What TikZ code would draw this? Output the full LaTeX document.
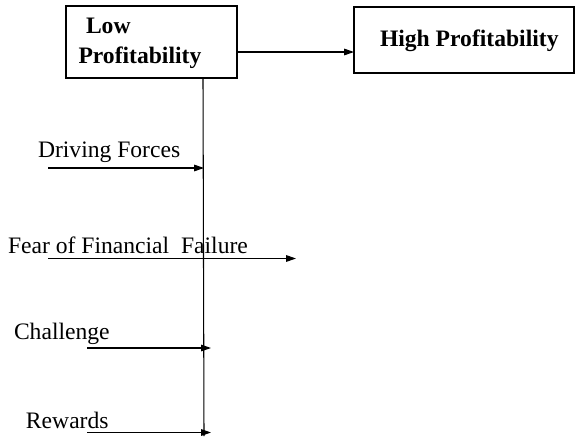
\documentclass[tikz,border=0pt]{standalone}
\usepackage{fontspec}
\setmainfont{Liberation Serif}
\usetikzlibrary{arrows.meta}
\begin{document}
\begin{tikzpicture}[x=0.75pt,y=-0.75pt,
  every node/.style={inner sep=0pt, outer sep=0pt},
  txt/.style={font=\fontsize{17.7}{22}\selectfont, anchor=base west},
  btxt/.style={txt, font=\fontsize{17.7}{22}\selectfont\bfseries},
  box/.style={draw, line width=0.8pt},
  line/.style={line width=0.8pt},
  arr/.style={line width=0.8pt, -{Triangle[length=7.5pt,width=5pt]}}]
\useasboundingbox (0,0) rectangle (575,436);
% boxes
\node[box, minimum width=171*0.75pt, minimum height=72*0.75pt] (low) at (151.5,42) {};
\node[box, minimum width=220*0.75pt, minimum height=66*0.75pt] (high) at (464,40) {};
\node[btxt] (lowa) at (86,33) {Low};
\node[btxt] (lowb) at (78.5,63) {Profitability};
\node[btxt] (hightxt) at (380,46.5) {High Profitability};
% main transition
\coordinate (lowout) at (237,52);
\coordinate (highin) at (354,52);
\draw[arr] (lowout) -- (highin);
% vertical spine under the low box
\coordinate (spinetop) at (203,78);
\coordinate (spinebot) at (204,436);
\draw[line] (spinetop) -- (spinebot);
% forces and their arrows
\node[txt] (driving) at (38,157) {Driving Forces};
\coordinate (d1) at (48,168);
\coordinate (d2) at (204,168);
\draw[arr] (d1) -- (d2);
\node[txt] (fear) at (8,253) {Fear of Financial\ \ Failure};
\coordinate (f1) at (48,258.5);
\coordinate (f2) at (296,258.5);
\draw[arr] (f1) -- (f2);
\node[txt] (challenge) at (14,339) {Challenge};
\coordinate (c1) at (87,348);
\coordinate (c2) at (211,348);
\draw[arr] (c1) -- (c2);
\node[txt] (rewards) at (26,428) {Rewards};
\coordinate (r1) at (87,432.5);
\coordinate (r2) at (211,432.5);
\draw[arr] (r1) -- (r2);
\end{tikzpicture}
\end{document}
